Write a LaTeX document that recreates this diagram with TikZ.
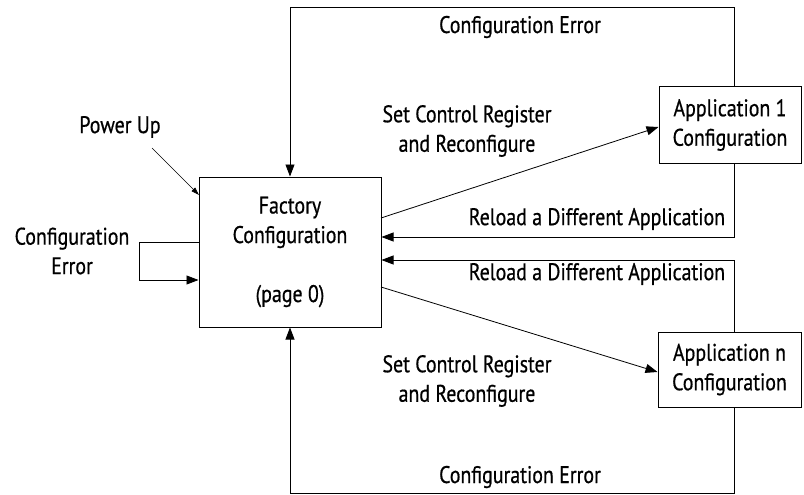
\documentclass[tikz,border=0pt]{standalone}
\usepackage{fontspec}
\setmainfont{PT Sans}[FakeStretch=0.83,FakeBold=0.6]
\usetikzlibrary{arrows.meta,calc}
\begin{document}
\begin{tikzpicture}[x=1pt,y=-1pt,
  font=\fontsize{24}{29.5}\selectfont,
  box/.style={draw,line width=1pt,inner sep=0pt,align=center},
  lbl/.style={align=center,inner sep=0pt},
  conn/.style={line width=0.8pt},
  arr/.style={conn,-{Triangle[length=12pt,width=9pt]}},
  small/.style={line width=0.6pt,-{Triangle[length=8pt,width=5pt]}}]
\useasboundingbox (0,0) rectangle (804,495);
\node[box,minimum width=182pt,minimum height=150pt] (fac) at (290,252) {Factory\\Configuration\\~\\(page 0)};
\node[box,minimum width=142pt,minimum height=76pt] (app1) at (730,125) {Application 1\\Configuration};
\node[box,minimum width=143pt,minimum height=75pt] (appn) at (729.5,369.5) {Application n\\Configuration};
\coordinate (t1) at (734,7);
\coordinate (b1) at (734,493);
\coordinate (r1) at (734,237);
\coordinate (r2) at (734,260);
\coordinate (s1) at (381,218);
\coordinate (s2) at (381,287);
\coordinate (l1) at (139,242);
\coordinate (l2) at (139,280);
\coordinate (pu1) at (152,148);
\coordinate (pu2) at (199,195);
\node[lbl] (ceTop) at (520,27) {Configuration Error};
\node[lbl] (ceBot) at (520,477) {Configuration Error};
\node[lbl] (set1) at (467,131) {Set Control Register\\and Reconfigure};
\node[lbl] (set2) at (467,381) {Set Control Register\\and Reconfigure};
\node[lbl] (rl1) at (597,219) {Reload a Different Application};
\node[lbl] (rl2) at (597,274) {Reload a Different Application};
\node[lbl] (ceL) at (72,251) {Configuration\\Error};
\node[lbl] (pu) at (120,127) {Power Up};
% connectors
\draw[arr] (app1.north -| t1) -- (t1) -| (fac.north);
\draw[arr] (appn.south -| b1) -- (b1) -| (fac.south);
\draw[arr] (app1.south -| r1) -- (r1) -- (r1 -| fac.east);
\draw[arr] (appn.north -| r2) -- (r2) -- (r2 -| fac.east);
\draw[arr] (s1) -- (app1.west |- 0,127);
\draw[arr] (s2) -- (appn.west |- 0,372);
\draw[arr] (l1 -| fac.west) -- (l1) -- (l2) -- (l2 -| fac.west);
\draw[small] (pu1) -- (pu2);
\end{tikzpicture}
\end{document}
